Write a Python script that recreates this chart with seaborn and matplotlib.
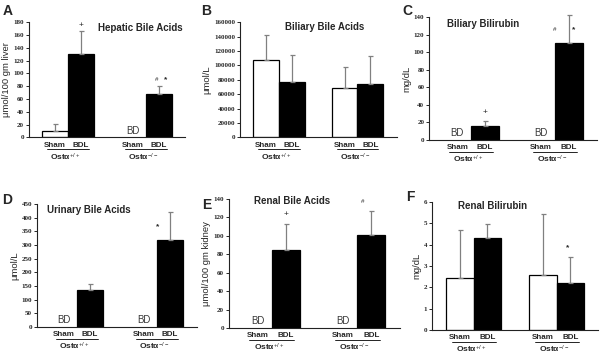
import matplotlib
matplotlib.use("Agg")
import numpy as np
import pandas as pd
import matplotlib.pyplot as plt
import matplotlib.transforms as mtransforms
import seaborn as sns

GENOTYPES = ["+/+", "-/-"]
TREATMENTS = ["Sham", "BDL"]
OST_LABELS = ["Ostα$^{+/+}$", "Ostα$^{-/-}$"]

# None = below detection ("BD")
HEPATIC_SHAM = [10.4, None]
HEPATIC_SHAM_SD = [10.6, None]
HEPATIC_BDL = [130.5, 68.0]
HEPATIC_BDL_SD = [35.5, 12.5]

BILIARY_BA_SHAM = [107700, 68900]
BILIARY_BA_SHAM_SD = [33800, 28700]
BILIARY_BA_BDL = [76800, 74500]
BILIARY_BA_BDL_SD = [37900, 38800]

BILIARY_BR_SHAM = [None, None]
BILIARY_BR_SHAM_SD = [None, None]
BILIARY_BR_BDL = [16.4, 110.0]
BILIARY_BR_BDL_SD = [4.9, 32.0]

URINARY_SHAM = [None, None]
URINARY_SHAM_SD = [None, None]
URINARY_BDL = [134.5, 318.0]
URINARY_BDL_SD = [24.5, 104.0]

RENAL_BA_SHAM = [None, None]
RENAL_BA_SHAM_SD = [None, None]
RENAL_BA_BDL = [84.5, 100.5]
RENAL_BA_BDL_SD = [28.3, 26.8]

RENAL_BR_SHAM = [2.42, 2.56]
RENAL_BR_SHAM_SD = [2.25, 2.86]
RENAL_BR_BDL = [4.33, 2.22]
RENAL_BR_BDL_SD = [0.64, 1.19]

# significance marks: (genotype index, symbol, y value)
HEPATIC_MARKS = [(0, "+", 175), (1, "#", 90), (1, "*", 90)]
BILIARY_BA_MARKS = []
BILIARY_BR_MARKS = [(0, "+", 31.6), (1, "#", 126), (1, "*", 126)]
URINARY_MARKS = [(1, "*", 367)]
RENAL_BA_MARKS = [(0, "+", 123), (1, "#", 137)]
RENAL_BR_MARKS = [(1, "*", 3.86)]

sns.set_style("ticks")
plt.rcParams["font.family"] = ["Liberation Sans", "DejaVu Sans"]
plt.rcParams["mathtext.fontset"] = "custom"
plt.rcParams["mathtext.rm"] = "Liberation Sans"
plt.rcParams["mathtext.bf"] = "Liberation Sans:bold"
plt.rcParams["mathtext.it"] = "Liberation Sans:italic"

# symbol x-offsets (points) from the bar centre
MARK_DX = {"+": 0, "#": -4, "*": 4}


def draw_panel(ax, sham, sham_sd, bdl, bdl_sd, marks, title, title_xy, ylabel,
               ymax, ystep, mark_dx=None):
    df = pd.DataFrame({
        "genotype": GENOTYPES * 2,
        "treatment": ["Sham"] * 2 + ["BDL"] * 2,
        "value": [0.0 if v is None else v for v in sham + bdl],
    })
    sns.barplot(data=df, x="genotype", y="value", hue="treatment",
                order=GENOTYPES, hue_order=TREATMENTS,
                palette=["white", "black"], saturation=1, edgecolor="black",
                linewidth=0.9, width=0.66, errorbar=None, legend=False, ax=ax)

    centers = []
    for cont, vals, sds in zip(ax.containers, [sham, bdl], [sham_sd, bdl_sd]):
        cs = []
        for bar, v, sd in zip(cont, vals, sds):
            cx = bar.get_x() + bar.get_width() / 2
            cs.append(cx)
            if v is None:
                bar.set_visible(False)
                ax.annotate("BD", (cx, 0), xytext=(0, 1.2), textcoords="offset points",
                            ha="center", va="bottom", fontsize=7, color="#3a3a3a")
            else:
                eb = ax.errorbar(cx, v, yerr=[[0], [sd]], fmt="none", ecolor="#808080",
                                 elinewidth=0.9, capsize=1.8, capthick=0.9)
                for art in list(eb.lines[1]) + list(eb.lines[2]):
                    art.set_clip_on(False)
        centers.append(cs)

    # group labels under the axis
    for i in range(len(GENOTYPES)):
        xs, xb = centers[0][i], centers[1][i]
        for x, lab in [(xs, "Sham"), (xb, "BDL")]:
            ax.annotate(lab, (x, 0), xycoords=("data", "axes fraction"),
                        xytext=(0, -5.6), textcoords="offset points",
                        ha="center", va="center", fontsize=5.8, fontweight="bold")
        trans = mtransforms.blended_transform_factory(ax.transData, ax.transAxes) + \
            mtransforms.ScaledTranslation(0, -8.4 / 72, ax.figure.dpi_scale_trans)
        ax.plot([xs - 0.1, xb + 0.1], [0, 0], transform=trans, color="black",
                lw=0.6, clip_on=False)
        ax.annotate(OST_LABELS[i], (i, 0), xycoords=("data", "axes fraction"),
                    xytext=(-2, -14), textcoords="offset points",
                    ha="center", va="center", fontsize=6, fontweight="bold")

    dx = mark_dx or MARK_DX
    for gi, sym, y in marks:
        ax.annotate(sym, (centers[1][gi], y), xytext=(dx.get(sym, 0), 0),
                    textcoords="offset points", ha="center", va="center",
                    fontsize=6 if sym != "#" else 4.5,
                    fontweight="bold" if sym == "*" else "normal",
                    annotation_clip=False)

    ax.text(title_xy[0], title_xy[1], title, transform=ax.transAxes, ha="center",
            va="center", fontsize=7, fontweight="bold")

    ax.set_xlim(-0.5, 1.5)
    ax.set_ylim(0, ymax)
    ax.set_yticks(np.arange(0, ymax + ystep / 2, ystep))
    ax.set_xticks([])
    ax.set_xlabel("")
    ax.set_ylabel(ylabel, fontsize=6.8, labelpad=2)
    for lab in ax.get_yticklabels():
        lab.set_fontfamily("Liberation Serif")
        lab.set_fontweight("bold")
        lab.set_fontsize(5)
    ax.tick_params(axis="y", direction="out", length=2, width=0.7, pad=1.5)
    sns.despine(ax=ax)
    for sp in ["left", "bottom"]:
        ax.spines[sp].set_linewidth(0.8)
        ax.spines[sp].set_color("#222222")


fig = plt.figure(figsize=(6.01, 3.54), dpi=100)

axA = fig.add_axes([0.048, 0.6116, 0.2596, 0.326])
axB = fig.add_axes([0.399, 0.6116, 0.261, 0.326])
axC = fig.add_axes([0.714, 0.6045, 0.2795, 0.3475])
axD = fig.add_axes([0.0616, 0.0763, 0.266, 0.347])
axE = fig.add_axes([0.381, 0.0734, 0.2845, 0.3645])
axF = fig.add_axes([0.719, 0.0678, 0.276, 0.3616])

draw_panel(axA, HEPATIC_SHAM, HEPATIC_SHAM_SD, HEPATIC_BDL, HEPATIC_BDL_SD,
           HEPATIC_MARKS, "Hepatic Bile Acids", (0.715, 0.95),
           "μmol/100 gm liver", 180, 20, {"+": 0, "#": -1.8, "*": 4.7})
draw_panel(axB, BILIARY_BA_SHAM, BILIARY_BA_SHAM_SD, BILIARY_BA_BDL, BILIARY_BA_BDL_SD,
           BILIARY_BA_MARKS, "Biliary Bile Acids", (0.54, 0.96),
           "μmol/L", 160000, 20000)
draw_panel(axC, BILIARY_BR_SHAM, BILIARY_BR_SHAM_SD, BILIARY_BR_BDL, BILIARY_BR_BDL_SD,
           BILIARY_BR_MARKS, "Biliary Bilirubin", (0.32, 0.94),
           "mg/dL", 140, 20, {"+": 0, "#": -10, "*": 3.5})
draw_panel(axD, URINARY_SHAM, URINARY_SHAM_SD, URINARY_BDL, URINARY_BDL_SD,
           URINARY_MARKS, "Urinary Bile Acids", (0.325, 0.954),
           "μmol/L", 450, 50, {"*": -9})
draw_panel(axE, RENAL_BA_SHAM, RENAL_BA_SHAM_SD, RENAL_BA_BDL, RENAL_BA_BDL_SD,
           RENAL_BA_MARKS, "Renal Bile Acids", (0.367, 0.984),
           "μmol/100 gm kidney", 140, 20, {"+": 0, "#": -6})
draw_panel(axF, RENAL_BR_SHAM, RENAL_BR_SHAM_SD, RENAL_BR_BDL, RENAL_BR_BDL_SD,
           RENAL_BR_MARKS, "Renal Bilirubin", (0.364, 0.97),
           "mg/dL", 6, 1, {"*": -2})

for letter, (x, y) in zip("ABCDEF", [(0.004, 0.99), (0.335, 0.99), (0.669, 0.99),
                                     (0.004, 0.456), (0.337, 0.442), (0.676, 0.462)]):
    fig.text(x, y, letter, ha="left", va="top", fontsize=10, fontweight="bold")

fig.savefig("out.png", dpi=100)
